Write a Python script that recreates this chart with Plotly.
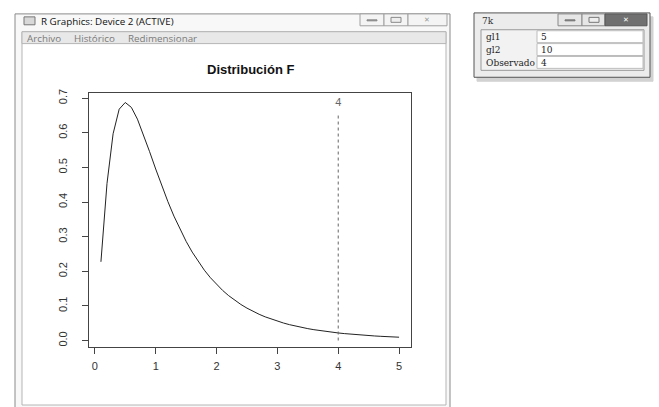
import plotly.graph_objects as go

W, H = 659, 407

# ---- data ----
x_vals = [0.1, 0.2, 0.3, 0.4, 0.5, 0.6, 0.7, 0.8, 0.9, 1.0,
          1.1, 1.2, 1.3, 1.4, 1.5, 1.6, 1.7, 1.8, 1.9, 2.0,
          2.1, 2.2, 2.3, 2.4, 2.5, 2.6, 2.7, 2.8, 2.9, 3.0,
          3.1, 3.2, 3.3, 3.4, 3.5, 3.6, 3.7, 3.8, 3.9, 4.0,
          4.1, 4.2, 4.3, 4.4, 4.5, 4.6, 4.7, 4.8, 4.9, 5.0]
density = [0.2274, 0.4538, 0.5973, 0.6683, 0.6876, 0.6736, 0.6395, 0.5948, 0.5455, 0.4955,
           0.4470, 0.4014, 0.3593, 0.3210, 0.2865, 0.2555, 0.2278, 0.2032, 0.1814, 0.1620,
           0.1448, 0.1296, 0.1161, 0.1042, 0.0936, 0.0842, 0.0758, 0.0684, 0.0617, 0.0558,
           0.0506, 0.0458, 0.0416, 0.0378, 0.0344, 0.0314, 0.0286, 0.0261, 0.0239, 0.0219,
           0.0201, 0.0184, 0.0169, 0.0156, 0.0143, 0.0132, 0.0122, 0.0113, 0.0104, 0.0096]
observed = 4
obs_line_y = [0.0, 0.65]
obs_label_y = 0.686
x_ticks = [0, 1, 2, 3, 4, 5]
y_ticks = [0.0, 0.1, 0.2, 0.3, 0.4, 0.5, 0.6, 0.7]
y_tick_text = ["0.0", "0.1", "0.2", "0.3", "0.4", "0.5", "0.6", "0.7"]
title_text = "Distribución F"
window_title = "R Graphics: Device 2 (ACTIVE)"
menu_items = ["Archivo", "Histórico", "Redimensionar"]
tk_labels = ["gl1", "gl2", "Observado"]
tk_values = ["5", "10", "4"]

def px(x):
    return x / W

def py(y):
    return 1 - y / H

fig = go.Figure()
fig.add_trace(go.Scatter(x=x_vals, y=density, mode="lines",
                         line=dict(color="#222222", width=1), showlegend=False, hoverinfo="skip"))
fig.add_trace(go.Scatter(x=[observed, observed], y=obs_line_y, mode="lines",
                         line=dict(color="#666666", width=1, dash="3px,3px"),
                         showlegend=False, hoverinfo="skip"))
fig.add_trace(go.Scatter(x=[observed], y=[obs_label_y], mode="text", text=[str(observed)],
                         textfont=dict(family="Liberation Sans", size=11, color="#666666"),
                         showlegend=False, hoverinfo="skip"))

shapes = []
annotations = []

def rect(x0, y0, x1, y1, fill=None, line="#999999", lw=1, layer="below"):
    shapes.append(dict(type="rect", xref="paper", yref="paper",
                       x0=px(x0), x1=px(x1), y0=py(y1), y1=py(y0),
                       fillcolor=fill if fill else "rgba(0,0,0,0)",
                       line=dict(color=line, width=lw), layer=layer))

def text(x, y, s, size=9, color="#222222", family="Open Sans", anchor="left", bold=False):
    annotations.append(dict(x=px(x), y=py(y), xref="paper", yref="paper", text=("<b>%s</b>" % s) if bold else s,
                            showarrow=False, xanchor=anchor, yanchor="middle",
                            font=dict(size=size, color=color, family=family)))

# ---- main R window chrome ----
rect(15, 10, 450, 410, fill="#f8f8f8", line="#8a8a8a")
rect(22, 28, 446, 405, fill="#ffffff", line="#b5b5b5")
rect(22, 28, 446, 40, fill="#e8e8e8", line="#b5b5b5")
# title icon
rect(24, 13, 35, 21, fill="#d8d8d8", line="#777777")
text(39, 17.5, window_title, size=9.8, color="#111111")
for lab, xpos in zip(menu_items, [25, 72, 126]):
    text(xpos, 34.5, lab, size=9.8, color="#7a7a7a")
# window buttons
rect(360, 10, 384, 22, fill="#f4f4f4", line="#a0a0a0")
rect(384, 10, 408, 22, fill="#f4f4f4", line="#a0a0a0")
rect(408, 10, 447, 22, fill="#f4f4f4", line="#a0a0a0")
rect(367, 16, 377, 17, fill="#9a9a9a", line="#888888")
rect(391, 13.5, 401, 18.5, fill="#eeeeee", line="#888888")
text(427.5, 16, "✕", size=7, color="#999999", family="DejaVu Sans", anchor="center")

# ---- Tk window ----
rect(477, 13, 653, 78, fill="#d2d2d2", line="#d2d2d2")  # shadow
rect(474, 9, 650, 74, fill="#ececec", line="#555555")
text(480, 17, "7k", size=9, color="#333333", family="DejaVu Serif")
rect(558, 10, 582, 22, fill="#e6e6e6", line="#888888")
rect(582, 10, 605, 22, fill="#e6e6e6", line="#888888")
rect(605, 10, 647, 22, fill="#707070", line="#555555")
rect(565, 16, 575, 17, fill="#888888", line="#777777")
rect(589, 13.5, 599, 18.5, fill="#eeeeee", line="#777777")
text(626, 16, "✕", size=7, color="#ffffff", family="DejaVu Sans", anchor="center")
rect(481, 26, 644, 67, fill="#f2f2f2", line="#9a9a9a")
row_tops = [27, 40, 53]
for i, (lab, val) in enumerate(zip(tk_labels, tk_values)):
    t = row_tops[i]
    rect(537, t, 643, t + 12, fill="#ffffff", line="#bdbdbd")
    text(484, t + 6.5, lab, size=9, color="#222222", family="DejaVu Serif")
    text(539, t + 6.5, val, size=9, color="#222222", family="DejaVu Serif")

# ---- plot title ----
text(250, 66, title_text, size=13, color="#111111", family="Liberation Sans", anchor="center", bold=True)

fig.update_layout(
    width=W, height=H, autosize=False,
    margin=dict(l=0, r=0, t=0, b=0),
    paper_bgcolor="white", plot_bgcolor="white",
    shapes=shapes, annotations=annotations,
    xaxis=dict(domain=[px(89), px(411)], range=[-0.096, 5.196],
               tickvals=x_ticks, ticktext=[str(v) for v in x_ticks],
               ticks="outside", ticklen=6, tickcolor="#444444", tickwidth=1,
               showgrid=False, zeroline=False, showline=True, mirror=True,
               linecolor="#444444", linewidth=1,
               tickfont=dict(family="Liberation Sans", size=11, color="#333333"),
               ticklabelstandoff=3),
    yaxis=dict(domain=[py(346), py(90)], range=[-0.0175, 0.7147],
               tickvals=y_ticks, ticktext=y_tick_text, tickangle=-90,
               ticks="outside", ticklen=6, tickcolor="#444444", tickwidth=1,
               showgrid=False, zeroline=False, showline=True, mirror=True,
               linecolor="#444444", linewidth=1,
               tickfont=dict(family="Liberation Sans", size=11, color="#333333"),
               ticklabelstandoff=11),
)

fig.write_html("out.html")
